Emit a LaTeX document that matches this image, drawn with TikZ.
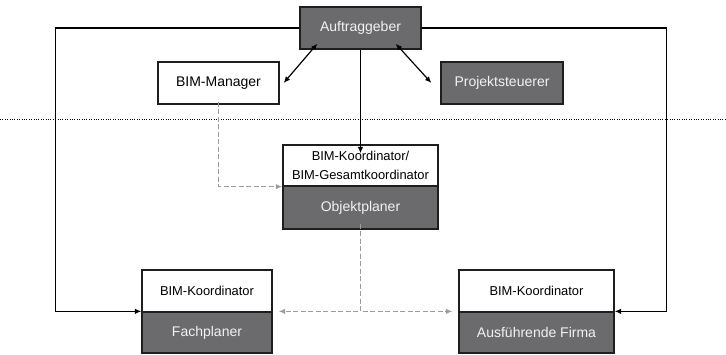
\documentclass[tikz,border=0pt]{standalone}
\usepackage{fontspec}
\setmainfont{Liberation Sans}
\usetikzlibrary{arrows.meta}
\definecolor{boxdark}{HTML}{6B6B6D}
\definecolor{boxline}{HTML}{1E1E1E}
\definecolor{dashgray}{HTML}{9C9C9C}
\definecolor{lighttext}{HTML}{F2F2F2}
\begin{document}
\begin{tikzpicture}[x=1pt,y=-1pt,
  basebox/.style={draw=boxline, line width=1.3pt, rectangle, inner sep=0pt,
    font=\fontsize{14}{16}\selectfont},
  darkbox/.style={basebox, fill=boxdark, text=lighttext},
  lightbox/.style={basebox, fill=white, text=black},
  smalltext/.style={font=\fontsize{12.9}{19.5}\selectfont, align=center},
  link/.style={line width=1.2pt, draw=black},
  tip/.style={-{Latex[length=6.5pt,width=5.5pt]}},
  bothtips/.style={{Latex[length=6.5pt,width=5.5pt]}-{Latex[length=6.5pt,width=5.5pt]}},
  grayline/.style={line width=1.4pt, draw=dashgray, dash pattern=on 5pt off 2.5pt},
  graytip/.style={-{Latex[length=6.5pt,width=5.5pt]}, dashgray}]
\useasboundingbox (0,0) rectangle (726,354);

% separator between the client level and the planning level
\coordinate (sepL) at (0,119);
\coordinate (sepR) at (726,119);
\draw[line width=0.8pt, dash pattern=on 1pt off 1.4pt] (sepL) -- (sepR);

% top level
\node[darkbox, minimum width=121, minimum height=42] (auf) at (360.5,28) {Auftraggeber};
\node[lightbox, minimum width=121, minimum height=42] (bm) at (218.5,83) {BIM-Manager};
\node[darkbox, minimum width=122, minimum height=42] (ps) at (502,83) {Projektsteuerer};

% object planner with its coordinator
\node[lightbox, smalltext, minimum width=155, minimum height=41] (kt) at (360.5,165.5)
  {BIM-Koordinator/\\BIM-Gesamtkoordinator};
\node[darkbox, minimum width=155, minimum height=43] (op) at (360.5,207.5) {Objektplaner};

% specialist planner
\node[lightbox, smalltext, minimum width=130, minimum height=42] (fpt) at (207,291) {BIM-Koordinator};
\node[darkbox, minimum width=130, minimum height=41] (fpb) at (207,332.5) {Fachplaner};

% executing company
\node[lightbox, smalltext, minimum width=155, minimum height=42] (aft) at (536.5,291) {BIM-Koordinator};
\node[darkbox, minimum width=155, minimum height=41] (afb) at (536.5,332.5) {Ausführende Firma};

% contractual links from the client
\draw[link, tip] (auf.west) -- ++(-244,0) |- (fpb.north west);
\draw[link, tip] (auf.east) -- ++(245,0) |- (afb.north east);
\draw[link, tip] (auf.south) -- ([yshift=-9]kt.north);
\draw[link, bothtips] ([xshift=4]bm.east) -- ([xshift=18,yshift=6]auf.south west);
\draw[link, bothtips] ([xshift=-26,yshift=6]auf.south east) -- ([xshift=-9]ps.west);

% BIM coordination links
\draw[grayline, graytip] ([yshift=3]bm.south) |- (kt.south west);
\draw[grayline, graytip] ([yshift=6]op.south) |- ([xshift=6]fpb.north east);
\draw[grayline, graytip] ([yshift=6]op.south) |- ([xshift=-6]afb.north west);
\end{tikzpicture}
\end{document}
